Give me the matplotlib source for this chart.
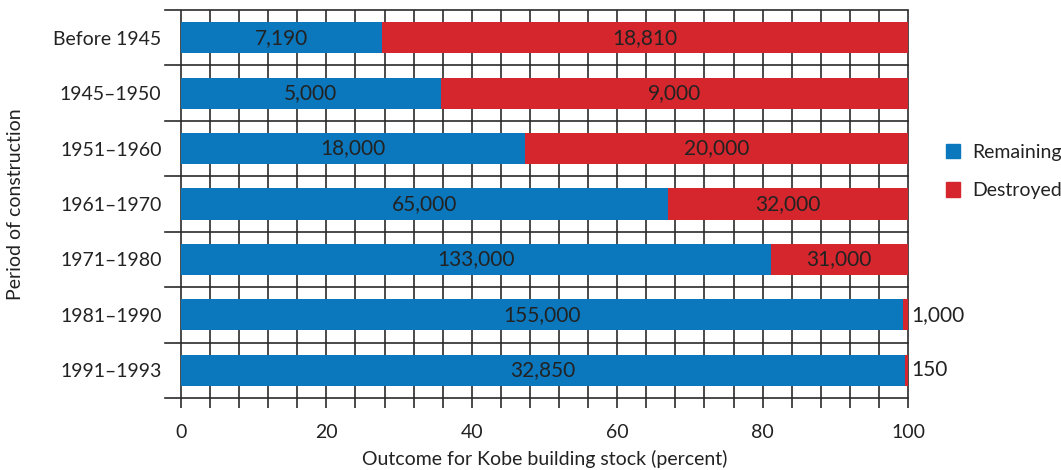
import numpy as np
import matplotlib.pyplot as plt
from matplotlib.patches import Patch
import matplotlib.transforms as mtransforms

plt.rcParams['font.family'] = ['Lato', 'DejaVu Sans']

periods = ["Before 1945", "1945\u20131950", "1951\u20131960", "1961\u20131970",
           "1971\u20131980", "1981\u20131990", "1991\u20131993"]
remaining = np.array([7190, 5000, 18000, 65000, 133000, 155000, 32850])
destroyed = np.array([18810, 9000, 20000, 32000, 31000, 1000, 150])

blue = "#0b77bd"
red = "#d5262d"
line_col = "#2b2b2b"
text_col = "#222222"
fs = 14
fs_val = 15

total = remaining + destroyed
rem_pct = remaining / total * 100
des_pct = destroyed / total * 100

fig = plt.figure(figsize=(10.61, 4.7), dpi=100)
ax = fig.add_axes([181 / 1061, 1 - 398 / 470, 727 / 1061, 388 / 470])

y = np.arange(len(periods))
ax.barh(y, rem_pct, height=0.56, color=blue, zorder=3)
ax.barh(y, des_pct, left=rem_pct, height=0.56, color=red, zorder=3)

for i in range(len(periods)):
    ax.text(rem_pct[i] / 2, y[i], f"{remaining[i]:,}", ha="center", va="center",
            fontsize=fs_val, color=text_col, zorder=4)
    if des_pct[i] > 5:
        ax.text(rem_pct[i] + des_pct[i] / 2, y[i], f"{destroyed[i]:,}",
                ha="center", va="center", fontsize=fs_val, color=text_col, zorder=4)
    else:
        ax.text(100.5, y[i], f"{destroyed[i]:,}", ha="left", va="center",
                fontsize=fs_val, color=text_col, zorder=4)

# vertical grid every 4 units, drawn as plain lines behind the bars
y_lo, y_hi = -0.5, len(periods) - 0.5
for gx in np.arange(0, 101, 4):
    ax.plot([gx, gx], [y_lo, y_hi], color=line_col, linewidth=1.2,
            zorder=2.5, clip_on=False, solid_capstyle="butt")

ax.set_xlim(0, 100)
ax.set_ylim(y_hi, y_lo)

ax.set_xticks(np.arange(0, 101, 20))
ax.set_xticks(np.arange(0, 101, 4), minor=True)
ax.tick_params(axis="x", which="both", length=7, width=1.2, color=line_col,
               direction="out", pad=12, labelsize=fs, labelcolor=text_col)

ax.set_yticks(y)
ax.set_yticklabels(periods)
ax.tick_params(axis="y", length=0, pad=14, labelsize=fs, labelcolor=text_col)

# horizontal separators reaching past the left edge
trans = mtransforms.blended_transform_factory(ax.transAxes, ax.transData)
for b in np.arange(y_lo, len(periods), 1.0):
    ax.plot([-0.022, 1.0], [b, b], transform=trans, color=line_col,
            linewidth=1.2, clip_on=False, zorder=2.5)

for s in ax.spines.values():
    s.set_visible(False)

ax.set_xlabel("Outcome for Kobe building stock (percent)", fontsize=fs,
              color=text_col, labelpad=6)
fig.text(16 / 1061, 1 - 204 / 470, "Period of construction", rotation=90,
         ha="center", va="center", fontsize=fs, color=text_col)

handles = [Patch(color=blue, label="Remaining"), Patch(color=red, label="Destroyed")]
fig.legend(handles=handles, loc="upper left", bbox_to_anchor=(940 / 1061, 1 - 138 / 470),
           frameon=False, fontsize=fs, handlelength=0.75, handleheight=0.75,
           handletextpad=0.6, labelspacing=1.1, labelcolor=text_col,
           borderaxespad=0, borderpad=0.3)

fig.savefig("out.png", dpi=100)
